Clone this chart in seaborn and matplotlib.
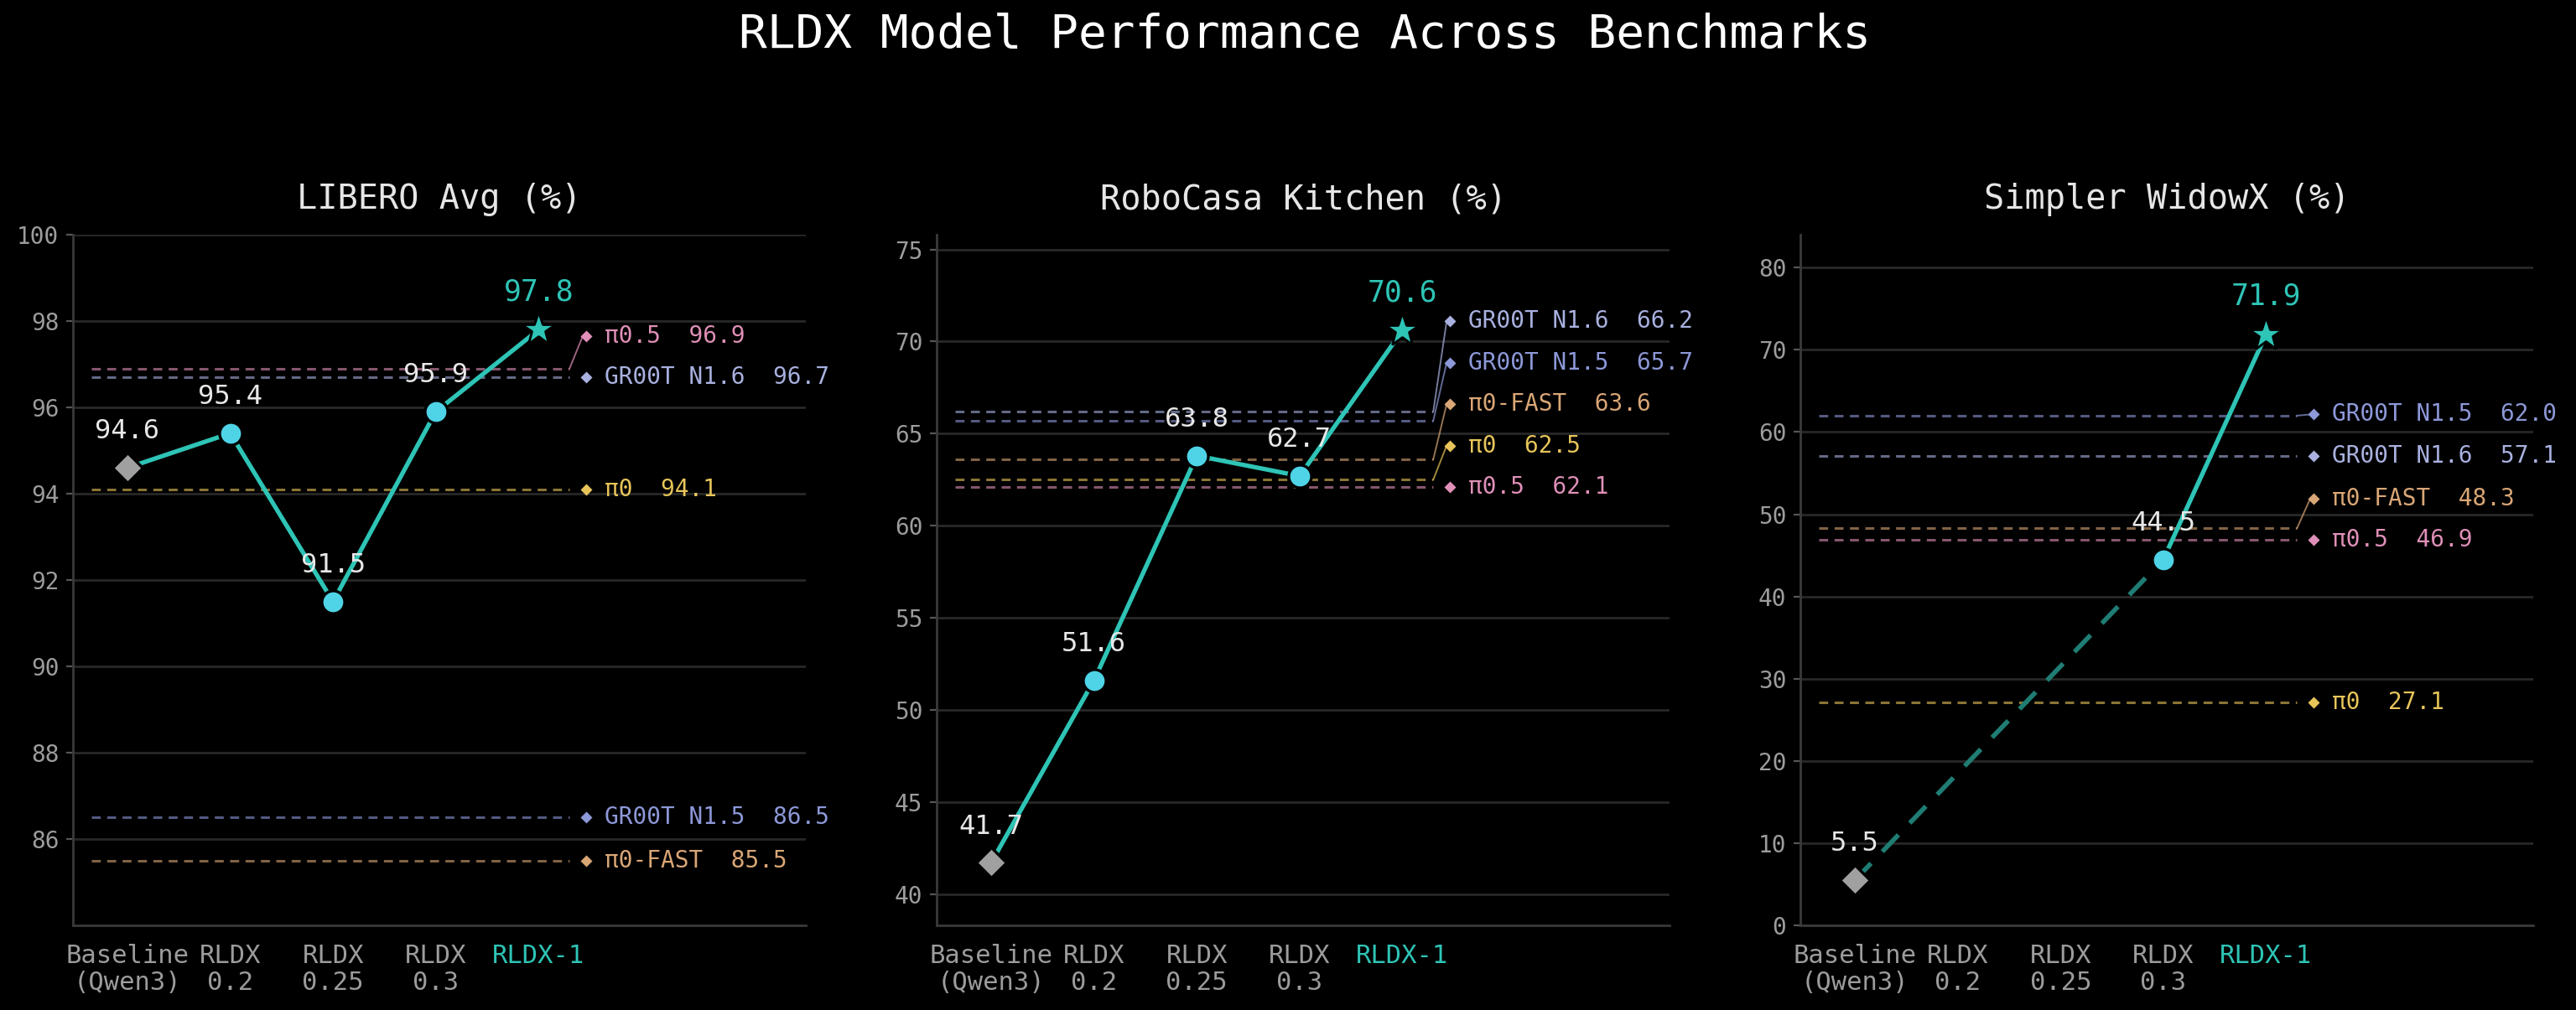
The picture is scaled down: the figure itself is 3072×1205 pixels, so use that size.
import numpy as np
import pandas as pd
import matplotlib
matplotlib.use("Agg")
import matplotlib.pyplot as plt
import seaborn as sns

# data
models = ["Baseline\n(Qwen3)", "RLDX\n0.2", "RLDX\n0.25", "RLDX\n0.3", "RLDX-1"]
benchmarks = ["LIBERO Avg (%)", "RoboCasa Kitchen (%)", "Simpler WidowX (%)"]

libero = [94.6, 95.4, 91.5, 95.9, 97.8]
robocasa = [41.7, 51.6, 63.8, 62.7, 70.6]
simpler = [5.5, np.nan, np.nan, 44.5, 71.9]

ref_names = ["π0", "π0-FAST", "π0.5", "GR00T N1.5", "GR00T N1.6"]
ref_pi0 = [94.1, 62.5, 27.1]
ref_pi0_fast = [85.5, 63.6, 48.3]
ref_pi05 = [96.9, 62.1, 46.9]
ref_groot15 = [86.5, 65.7, 62.0]
ref_groot16 = [96.7, 66.2, 57.1]

ylims = [(84.0, 100.0), (38.3, 75.8), (0.0, 84.0)]
yticks = [np.arange(86, 101, 2), np.arange(40, 76, 5), np.arange(0, 81, 10)]

ref_colors = {"π0": "#e8c55a", "π0-FAST": "#d9a676", "π0.5": "#e090b8",
              "GR00T N1.5": "#8d98d8", "GR00T N1.6": "#a9b1e0"}
TEAL = "#2ec4b6"
CYAN = "#4fd3e6"
GRAY = "#a0a0a0"

sns.set_theme(style="dark", rc={
    "figure.facecolor": "black", "axes.facecolor": "black",
    "axes.edgecolor": "#3a3a3a", "grid.color": "#2a2a2a",
    "text.color": "#e6e6e6", "xtick.color": "#9c9c9c", "ytick.color": "#9c9c9c",
})
plt.rcParams["font.family"] = ["DejaVu Sans Mono", "DejaVu Sans"]

fig = plt.figure(figsize=(15.36, 6.025), dpi=200)
lefts = [0.0283, 0.3636, 0.6989]
series = [libero, robocasa, simpler]
refs = [ref_pi0, ref_pi0_fast, ref_pi05, ref_groot15, ref_groot16]

for i, (name, vals) in enumerate(zip(benchmarks, series)):
    ax = fig.add_axes([lefts[i], 0.0838, 0.2846, 0.6838])
    x = np.arange(len(models))
    y = np.array(vals, dtype=float)
    lo, hi = ylims[i]

    # benchmark references: dashed lines + labels pushed apart
    rv = [(n, r[i]) for n, r in zip(ref_names, refs)]
    rv.sort(key=lambda t: t[1])
    gap = 0.06 * (hi - lo)
    placed = []
    for n, v in rv:
        ly = v if not placed else max(v, placed[-1][2] + gap)
        placed.append((n, v, ly))
    for n, v, ly in placed:
        c = ref_colors[n]
        ax.plot([-0.35, 4.3], [v, v], color=c, alpha=0.6, lw=1.1,
                ls=(0, (3.5, 2.5)), zorder=2)
        if abs(ly - v) > 1e-6:
            ax.plot([4.3, 4.43], [v, ly], color=c, alpha=0.7, lw=0.7,
                    zorder=2, clip_on=False)
        ax.plot([4.46], [ly], marker="D", ms=3.8, color=c, mec="none",
                clip_on=False, zorder=3)
        ax.text(4.64, ly, f"{n}  {v:.1f}", color=c, fontsize=10,
                va="center", ha="left", clip_on=False)

    # main series
    ok = ~np.isnan(y)
    xs, ys = x[ok], y[ok]
    for a, b in zip(range(len(xs) - 1), range(1, len(xs))):
        seg = pd.DataFrame({"x": [xs[a], xs[b]], "y": [ys[a], ys[b]]})
        dashed = xs[b] - xs[a] > 1
        sns.lineplot(data=seg, x="x", y="y", ax=ax, sort=False,
                     color="#1f7d74" if dashed else TEAL, lw=2.0 if dashed else 1.9,
                     ls=(0, (5, 3.5)) if dashed else "-", zorder=4)
    ax.plot([x[0]], [y[0]], marker="D", ms=9, color=GRAY, mec="black",
            mew=1.2, zorder=5)
    mid = [k for k in range(1, len(x) - 1) if ok[k]]
    sns.scatterplot(x=x[mid], y=y[mid], ax=ax, s=95, color=CYAN,
                    edgecolor="black", linewidth=1.2, zorder=5)
    ax.plot([x[-1]], [y[-1]], marker="*", ms=15, color=TEAL, mec="black",
            mew=1.0, zorder=5)

    for k in range(len(x)):
        if not ok[k]:
            continue
        last = k == len(x) - 1
        ax.annotate(f"{y[k]:.1f}", (x[k], y[k]), xytext=(0, 10),
                    textcoords="offset points", ha="center", va="bottom",
                    fontsize=12.5 if last else 11.5,
                    color=TEAL if last else "#e8e8e8", zorder=6)

    ax.set_xlim(-0.53, 6.6)
    ax.set_ylim(lo, hi)
    ax.set_yticks(yticks[i])
    ax.set_xticks(x)
    ax.set_xticklabels(models, fontsize=11, linespacing=1.1)
    ax.get_xticklabels()[-1].set_color(TEAL)
    ax.tick_params(axis="x", length=0, pad=8)
    ax.tick_params(axis="y", length=3, width=0.8, color="#555555",
                   labelsize=10, pad=3, left=True)
    ax.grid(axis="y", color="#282828", lw=1.0)
    ax.grid(axis="x", visible=False)
    for s in ["top", "right"]:
        ax.spines[s].set_visible(False)
    for s in ["left", "bottom"]:
        ax.spines[s].set_color("#3a3a3a")
        ax.spines[s].set_linewidth(1.0)
    ax.set_xlabel("")
    ax.set_ylabel("")
    ax.set_title(name, fontsize=14.5, color="#e6e6e6", pad=11)

fig.suptitle("RLDX Model Performance Across Benchmarks", x=0.5066, y=0.965,
             va="center", fontsize=20.2, color="white")

fig.savefig("out.png", dpi=200, facecolor="black")
